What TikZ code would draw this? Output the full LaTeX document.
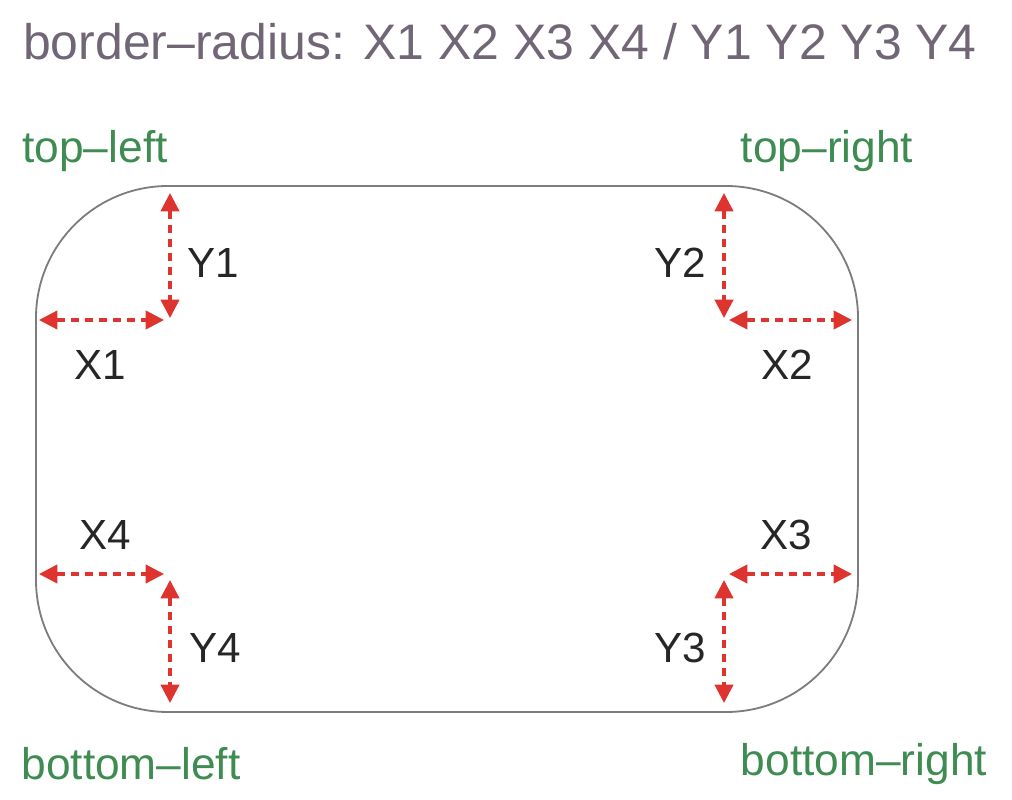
\documentclass[tikz,border=0pt]{standalone}
\usepackage{fontspec}
\setmainfont{Liberation Sans}
\usetikzlibrary{arrows.meta,positioning}
\definecolor{titlegray}{RGB}{112,102,118}
\definecolor{cornergreen}{RGB}{62,140,82}
\definecolor{arrowred}{RGB}{222,52,48}
\definecolor{boxgray}{RGB}{125,125,125}
\tikzset
{
	titlelabel/.style  = {text=titlegray, font=\fontsize{35.5}{38}\selectfont, inner sep=0pt},
	cornerlabel/.style = {text=cornergreen, font=\fontsize{31.5}{34}\selectfont, inner sep=0pt},
	radlabel/.style    = {text=black!85, font=\fontsize{30}{33}\selectfont, inner sep=0pt},
	radarrow/.style    = {draw=arrowred, line width=2.2pt, dash pattern=on 6pt off 4pt, {Triangle[length=13pt,width=13pt]}-{Triangle[length=13pt,width=13pt]}},
	boxline/.style     = {draw=boxgray, line width=1.3pt, rounded corners=3.3cm}
}

\begin{document}
\begin{tikzpicture}[x=0.025cm, y=-0.025cm]
\useasboundingbox (0,0) rectangle (1012,800);
% heading
\node[titlelabel] (title) at (500,42) {border–radius: X1 X2 X3 X4 / Y1 Y2 Y3 Y4};
% box
\draw[boxline] (36,186) rectangle (858,712);
% corner names
\node[cornerlabel] (tl) at (95,151) {top–left};
\node[cornerlabel] (tr) at (827,151) {top–right};
\node[cornerlabel] (bl) at (131,764) {bottom–left};
\node[cornerlabel] (br) at (864,764) {bottom–right};
% arrow ends
\coordinate (y1a) at (170,193);
\coordinate (y1b) at (170,318);
\coordinate (x1a) at (39,320);
\coordinate (x1b) at (164,320);
\coordinate (y2a) at (724,193);
\coordinate (y2b) at (724,318);
\coordinate (x2a) at (729,320);
\coordinate (x2b) at (852,320);
\coordinate (x4a) at (39,574);
\coordinate (x4b) at (164,574);
\coordinate (y4a) at (170,580);
\coordinate (y4b) at (170,703);
\coordinate (x3a) at (729,574);
\coordinate (x3b) at (852,574);
\coordinate (y3a) at (724,580);
\coordinate (y3b) at (724,703);
\draw[radarrow] (y1a) -- (y1b);
\draw[radarrow] (x1a) -- (x1b);
\draw[radarrow] (y2a) -- (y2b);
\draw[radarrow] (x2a) -- (x2b);
\draw[radarrow] (x4a) -- (x4b);
\draw[radarrow] (y4a) -- (y4b);
\draw[radarrow] (x3a) -- (x3b);
\draw[radarrow] (y3a) -- (y3b);
% radius names
\node[radlabel] (Y1) at (213,263) {Y1};
\node[radlabel] (X1) at (100,365) {X1};
\node[radlabel] (Y2) at (680,263) {Y2};
\node[radlabel] (X2) at (787,365) {X2};
\node[radlabel] (X4) at (105,535) {X4};
\node[radlabel] (Y4) at (215,648) {Y4};
\node[radlabel] (X3) at (786,535) {X3};
\node[radlabel] (Y3) at (680,648) {Y3};
\end{tikzpicture}
\end{document}
